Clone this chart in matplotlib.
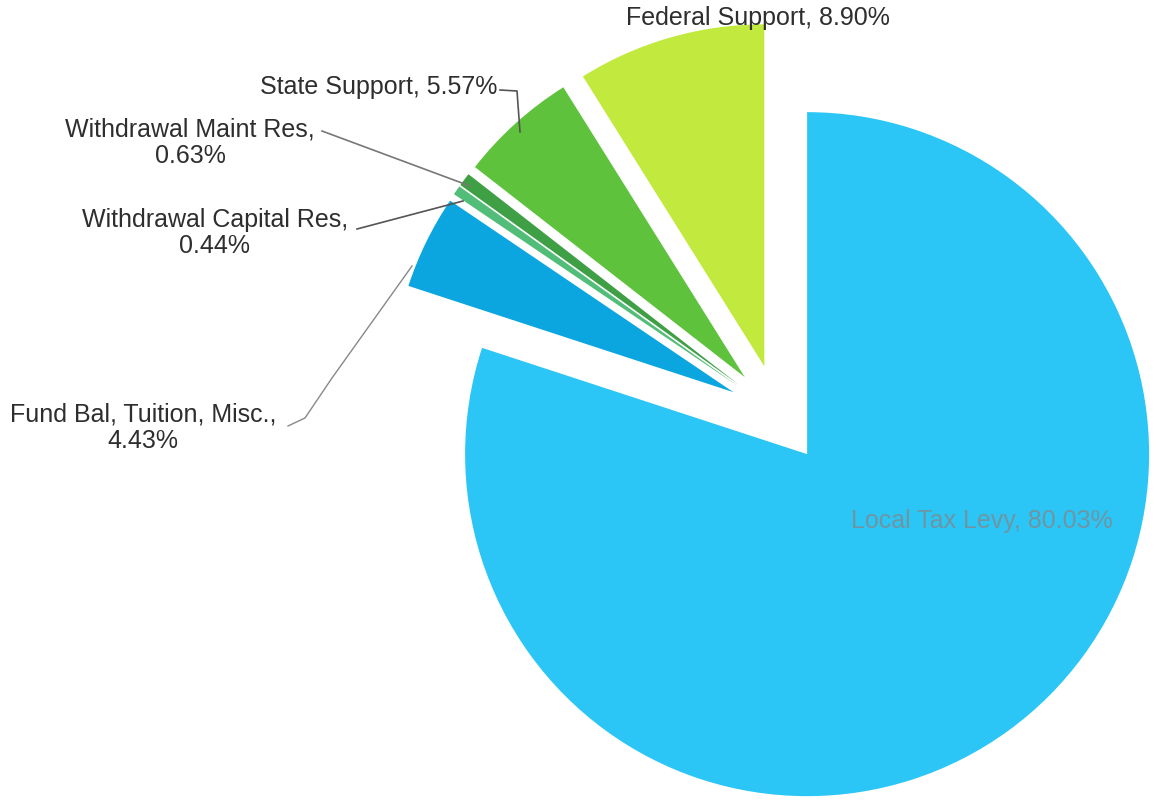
import matplotlib.pyplot as plt

# revenue shares, clockwise from 12 o'clock
names = ['Local Tax Levy', 'Fund Bal, Tuition, Misc.', 'Withdrawal Capital Res',
         'Withdrawal Maint Res', 'State Support', 'Federal Support']
shares = [80.03, 4.43, 0.44, 0.63, 5.57, 8.90]
colors = ['#2bc6f5', '#0ba6e0', '#52bd78', '#3f9f45', '#5ec23c', '#c2ea3e']

plt.rcParams['font.family'] = ['Liberation Sans', 'DejaVu Sans']

fig = plt.figure(figsize=(11.57, 8), dpi=100)
ax = fig.add_axes([0, 0, 1, 1])

H = 800  # image height, used to flip y so positions read like the picture


def yy(v):
    return H - v


R = 342
# explode in matplotlib is in data units, so scale by radius
ax.pie(shares, explode=[0.145 * R] * len(shares), colors=colors, startangle=90,
       counterclock=False, center=(778, yy(414)), radius=R,
       wedgeprops=dict(linewidth=0))

ax.set_xlim(0, 1157)
ax.set_ylim(0, H)
ax.set_aspect('equal')
ax.axis('off')

txt = dict(fontsize=18, color='#2e2e2e')

def lbl(i):
    return names[i] + ', ' + '%.2f%%' % shares[i]

# inside label
ax.text(982, yy(521), lbl(0), ha='center', va='center', fontsize=18, color='#6f95a3')

# outside labels
ax.text(758, yy(18), lbl(5), ha='center', va='center', **txt)
ax.text(497, yy(87), lbl(4), ha='right', va='center', **txt)
ax.text(190, yy(143), names[3] + ',\n' + '%.2f%%' % shares[3], ha='center', va='center',
        linespacing=1.15, **txt)
ax.text(215, yy(233), names[2] + ',\n' + '%.2f%%' % shares[2], ha='center', va='center',
        linespacing=1.15, **txt)
ax.text(143, yy(428), names[1] + ',\n' + '%.2f%%' % shares[1], ha='center', va='center',
        linespacing=1.15, **txt)

# leader lines
lc = dict(color='#555555', lw=1.2)
ax.plot([500, 517, 520], [yy(90), yy(91), yy(132)], **lc)
ax.plot([322, 470], [yy(131), yy(186)], color='#777777', lw=1.2)
ax.plot([357, 463], [yy(229), yy(201)], **lc)
ax.plot([288, 305, 332, 412], [yy(426), yy(418), yy(378), yy(266)], color='#888888', lw=1.0)

fig.savefig('out.png', dpi=100)
